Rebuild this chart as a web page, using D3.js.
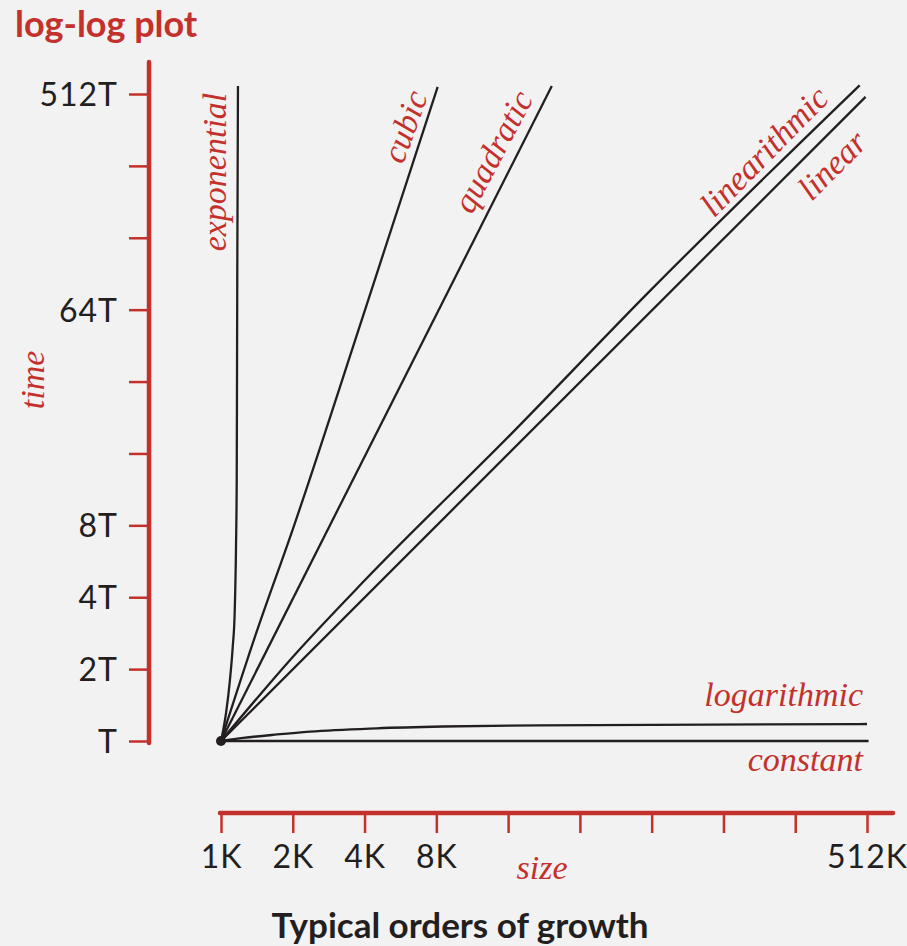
<!DOCTYPE html>
<html>
<head>
<meta charset="utf-8">
<script src="https://cdn.jsdelivr.net/npm/d3@7"></script>
<style>
  body { margin: 0; background: #f2f2f2; }
  svg { display: block; }
  .tick-label { font-family: Lato, "Open Sans", sans-serif; font-size: 32px; fill: #231f20; letter-spacing: 1px; }
  .curve-label { font-family: "Liberation Serif", "DejaVu Serif", serif; font-style: italic; font-size: 34px; fill: #c4302b; }
</style>
</head>
<body>
<div class="graph"></div>
<script>
// log-log plot of the typical orders of growth

var width = 907;
var height = 946;

// ticks, one per doubling
var sizeTicks = [1, 2, 4, 8, 16, 32, 64, 128, 256, 512];
var sizeTickLabels = ["1K", "2K", "4K", "8K", "", "", "", "", "", "512K"];
var timeTicks = [1, 2, 4, 8, 16, 32, 64, 128, 256, 512];
var timeTickLabels = ["T", "2T", "4T", "8T", "", "", "64T", "", "", "512T"];

// curves, size in K, time in T
var constantSize = [1, 520];
var constantTime = [1, 1];

var logSize = [1, 1.24, 1.72, 2.36, 4.5, 8.5, 21.7, 512];
var logTime = [1, 1.03, 1.065, 1.095, 1.13, 1.15, 1.163, 1.178];

var linearSize = [1, 505];
var linearTime = [1, 498];

var linearithmicSize = [1, 2, 4, 16.3, 64, 477];
var linearithmicTime = [1, 2.25, 4.7, 19.1, 78, 557];

var quadraticSize = [1, 24.4];
var quadraticTime = [1, 553];

var cubicSize = [1, 1.4, 2, 4, 8.1];
var cubicTime = [1, 2.8, 7.7, 63, 548];

var exponentialSize = [1, 1.05, 1.09, 1.12, 1.141, 1.156, 1.164, 1.17, 1.178];
var exponentialTime = [1, 1.31, 1.8, 2.48, 3.43, 6.5, 12.4, 85, 553];

var series = [
    {name: "constant", size: constantSize, time: constantTime},
    {name: "logarithmic", size: logSize, time: logTime},
    {name: "linear", size: linearSize, time: linearTime},
    {name: "linearithmic", size: linearithmicSize, time: linearithmicTime},
    {name: "quadratic", size: quadraticSize, time: quadraticTime},
    {name: "cubic", size: cubicSize, time: cubicTime},
    {name: "exponential", size: exponentialSize, time: exponentialTime}
];

var red = "#c4302b";
var ink = "#231f20";

var svg = d3.select('.graph').append('svg')
    .attr('width', width)
    .attr('height', height)
    .attr('viewBox', [0, 0, width, height]);

svg.append('rect').attr('width', width).attr('height', height).attr('fill', '#f2f2f2');

var xScale = d3.scaleLog().base(2).domain([1, 512]).range([221, 867]);
var yScale = d3.scaleLog().base(2).domain([1, 512]).range([741, 94]);

// title
svg.append('text')
    .attr('x', 15)
    .attr('y', 37)
    .attr('font-family', 'Lato, "Open Sans", sans-serif')
    .attr('font-weight', 'bold')
    .attr('font-size', 36)
    .attr('fill', red)
    .text('log-log plot');

// y axis
var yAxis = d3.axisLeft(yScale)
    .tickValues(timeTicks)
    .tickSize(20)
    .tickPadding(11)
    .tickFormat(function(d, i) { return timeTickLabels[i]; });

var gy = svg.append('g')
    .attr('transform', 'translate(149,0)')
    .call(yAxis);
gy.select('.domain').remove();
gy.selectAll('.tick line').attr('stroke', red).attr('stroke-width', 2.5);
gy.selectAll('.tick text').attr('class', 'tick-label').attr('dy', '0.36em');
gy.append('line')
    .attr('x1', 0).attr('x2', 0)
    .attr('y1', 62).attr('y2', yScale(1) + 2)
    .attr('stroke', red).attr('stroke-width', 4.5).attr('stroke-linecap', 'round');

// x axis
var xAxis = d3.axisBottom(xScale)
    .tickValues(sizeTicks)
    .tickSize(20)
    .tickPadding(12)
    .tickFormat(function(d, i) { return sizeTickLabels[i]; });

var gx = svg.append('g')
    .attr('transform', 'translate(0,813)')
    .call(xAxis);
gx.select('.domain').remove();
gx.selectAll('.tick line').attr('stroke', red).attr('stroke-width', 2.5);
gx.selectAll('.tick text').attr('class', 'tick-label').attr('dy', '0.71em');
gx.append('line')
    .attr('x1', xScale(1) - 1).attr('x2', 893)
    .attr('y1', 0).attr('y2', 0)
    .attr('stroke', red).attr('stroke-width', 4.5).attr('stroke-linecap', 'round');

// axis titles
svg.append('text')
    .attr('class', 'curve-label')
    .attr('transform', 'translate(34,380) rotate(-90)')
    .attr('text-anchor', 'middle')
    .attr('dy', '0.3em')
    .text('time');

svg.append('text')
    .attr('class', 'curve-label')
    .attr('x', 542)
    .attr('y', 879)
    .attr('text-anchor', 'middle')
    .text('size');

svg.append('text')
    .attr('x', 460)
    .attr('y', 938)
    .attr('text-anchor', 'middle')
    .attr('font-family', 'Lato, "Open Sans", sans-serif')
    .attr('font-weight', 'bold')
    .attr('font-size', 35)
    .attr('fill', ink)
    .text('Typical orders of growth');

// curves
var line = d3.line()
    .x(function(d) { return xScale(d[0]); })
    .y(function(d) { return yScale(d[1]); })
    .curve(d3.curveMonotoneX);

svg.append('g')
    .attr('class', 'curves')
    .selectAll('path')
    .data(series)
    .enter()
    .append('path')
    .attr('d', function(s) {
        return line(d3.zip(s.size, s.time));
    })
    .attr('fill', 'none')
    .attr('stroke', ink)
    .attr('stroke-width', 2.3);

svg.append('circle')
    .attr('cx', xScale(1))
    .attr('cy', yScale(1))
    .attr('r', 5)
    .attr('fill', ink);

// curve labels (position of text, rotation)
var labelSpots = {
    constant:     {x: 863, y: 761, angle: 0, anchor: 'end'},
    logarithmic:  {x: 863, y: 696, angle: 0, anchor: 'end'},
    linear:       {x: 833, y: 166, angle: -45, anchor: 'middle'},
    linearithmic: {x: 765, y: 152, angle: -45.5, anchor: 'middle'},
    quadratic:    {x: 494, y: 152, angle: -62, anchor: 'middle'},
    cubic:        {x: 406, y: 127, angle: -70, anchor: 'middle'},
    exponential:  {x: 216, y: 172, angle: -90, anchor: 'middle'}
};

svg.append('g')
    .selectAll('text')
    .data(series)
    .enter()
    .append('text')
    .attr('class', 'curve-label')
    .attr('text-anchor', function(s) { return labelSpots[s.name].anchor; })
    .attr('dy', '0.3em')
    .attr('transform', function(s) {
        var p = labelSpots[s.name];
        return 'translate(' + p.x + ',' + p.y + ') rotate(' + p.angle + ')';
    })
    .text(function(s) { return s.name; });
</script>
</body>
</html>
